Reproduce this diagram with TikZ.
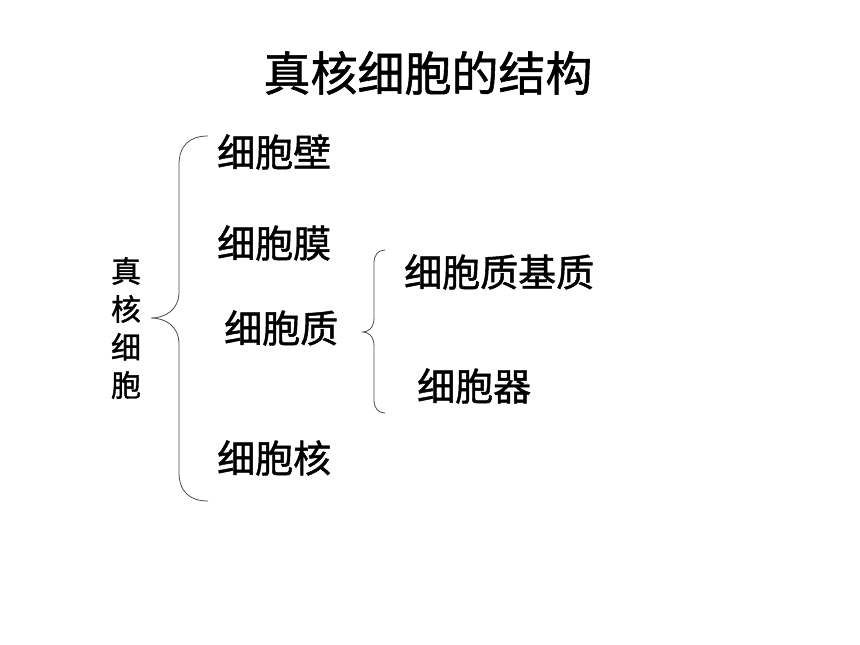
\documentclass[tikz,border=0pt]{standalone}
\usepackage{fontspec}
\setmainfont{Noto Sans CJK SC}[FakeBold=1.2,AutoFakeBold=1.2]
\usepackage{tikz}

\begin{document}
\begin{tikzpicture}[x=1pt,y=-1pt,
  item/.style={anchor=west,inner sep=0pt,font=\fontsize{38}{40}\selectfont\bfseries},
  bracket/.style={draw=black!70,line width=0.8pt}]
\useasboundingbox[fill=white] (0,0) rectangle (860,645);
% Title
\node (title) at (428,73) [inner sep=0pt,font=\fontsize{47}{50}\selectfont\bfseries] {真核细胞的结构};
% Left label (vertical)
\node (cell) at (126,328) [inner sep=0pt,align=center,font=\fontsize{30}{38}\selectfont\bfseries] {真\\核\\细\\胞};
% Parts of the cell
\node (wall) at (217,152) [item] {细胞壁};
\node (membrane) at (217,243) [item] {细胞膜};
\node (cytoplasm) at (224,328) [item] {细胞质};
\node (nucleus) at (217,458) [item] {细胞核};
% Parts of the cytoplasm
\node (matrix) at (404,272) [item] {细胞质基质};
\node (organelle) at (417,386) [item] {细胞器};
% Brace ends
\coordinate (ba) at (208,136);
\coordinate (bt) at (151,318);
\coordinate (bb) at (208,501);
\coordinate (ca) at (385,250);
\coordinate (ct) at (363,332);
\coordinate (cb) at (385,413);
% Big brace
\draw[bracket] (ba) .. controls (190,136) and (179,145) .. (179,165) -- (179,292)
  .. controls (179,310) and (165,318) .. (bt)
  .. controls (165,318) and (179,326) .. (179,344) -- (179,472)
  .. controls (179,492) and (190,501) .. (bb);
% Small brace
\draw[bracket] (ca) .. controls (378,250) and (374,255) .. (374,263) -- (374,318)
  .. controls (374,328) and (368,332) .. (ct)
  .. controls (368,332) and (374,336) .. (374,346) -- (374,400)
  .. controls (374,408) and (378,413) .. (cb);
\end{tikzpicture}
\end{document}
